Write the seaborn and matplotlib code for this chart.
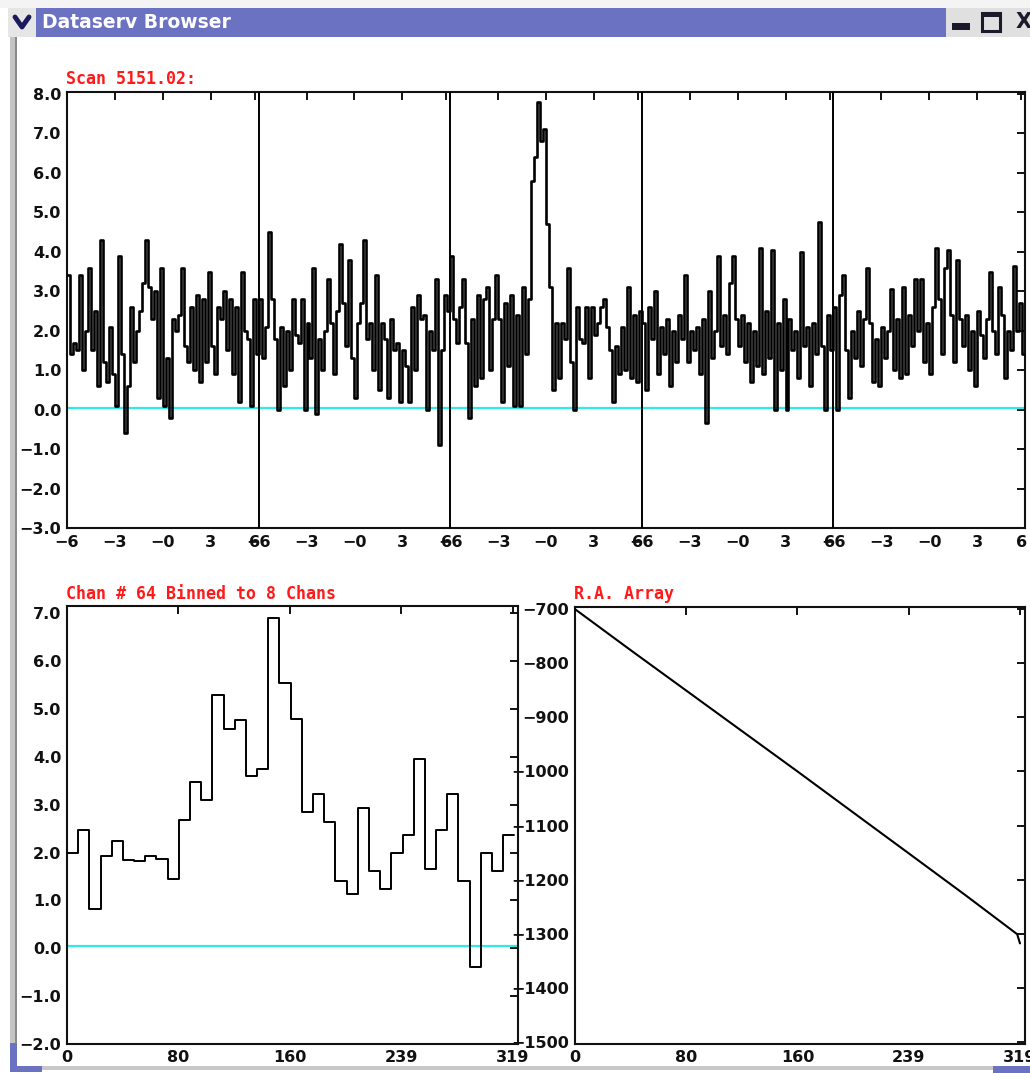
import numpy as np
import pandas as pd
import matplotlib
matplotlib.use("Agg")
import matplotlib.pyplot as plt
import seaborn as sns
from matplotlib.patches import Rectangle
from matplotlib.lines import Line2D

# ---------------- data ----------------
scan_title = "Scan 5151.02:"
binned_title = "Chan # 64 Binned to 8 Chans"
ra_title = "R.A. Array"

seg_tick_labels = ["\u22126", "\u22123", "\u22120", "3"]
seg_end_label = "6"

seg1 = [3.4, 1.4, 1.7, 1.5, 3.4, 1.0, 2.0, 3.6, 1.5, 2.5, 0.6, 4.3, 1.2, 0.7, 2.1, 0.9,
        0.1, 3.9, 1.4, -0.6, 0.6, 2.6, 1.2, 2.0, 2.5, 3.2, 4.3, 3.1, 2.3, 3.0, 0.3, 3.6,
        0.1, 1.3, -0.2, 2.3, 2.0, 2.4, 3.6, 1.6, 1.2, 2.6, 1.0, 2.9, 0.7, 2.8, 1.2, 3.5,
        1.6, 0.9, 2.6, 2.3, 3.0, 1.5, 2.8, 0.9, 2.6, 0.2, 3.5, 2.0, 1.8, 0.1, 2.8, 1.4]
seg2 = [2.8, 1.3, 2.1, 4.5, 2.8, 1.8, 0.0, 2.1, 0.6, 2.0, 1.0, 2.8, 1.9, 1.7, 2.8, 0.0,
        2.2, 1.3, 3.6, -0.1, 1.8, 1.0, 2.0, 3.3, 2.2, 0.9, 2.5, 4.2, 2.7, 1.6, 3.8, 1.3,
        0.3, 2.2, 2.7, 4.3, 1.8, 2.2, 1.0, 3.4, 0.5, 2.2, 1.8, 0.3, 2.3, 1.5, 1.7, 0.2,
        1.5, 1.1, 0.2, 2.6, 1.0, 2.9, 2.3, 2.4, 0.0, 2.0, 1.5, 3.3, -0.9, 1.5, 2.9, 2.5]
seg3 = [3.9, 2.3, 1.7, 2.6, 3.3, 1.7, -0.2, 2.3, 0.6, 2.9, 0.8, 2.8, 3.1, 1.0, 2.3, 3.4,
        2.3, 0.2, 2.7, 1.1, 2.9, 0.1, 2.4, 0.1, 3.1, 1.4, 2.8, 5.8, 6.4, 7.8, 6.8, 7.1,
        4.7, 3.1, 0.5, 2.2, 0.8, 2.2, 1.8, 3.6, 1.2, 0.0, 2.6, 1.8, 1.7, 2.6, 0.8, 2.6,
        1.9, 2.2, 2.6, 2.8, 2.1, 1.5, 0.2, 1.6, 0.9, 2.1, 1.0, 3.1, 0.8, 2.4, 0.7, 2.5]
seg4 = [2.2, 0.5, 2.6, 1.8, 3.0, 0.9, 2.1, 1.4, 2.3, 0.6, 2.0, 1.2, 2.4, 1.8, 3.4, 1.2,
        2.0, 1.5, 2.1, 0.9, 2.3, -0.35, 3.0, 1.3, 2.0, 3.9, 1.6, 2.4, 1.4, 3.2, 3.9, 2.3,
        1.6, 2.4, 1.2, 2.2, 0.7, 2.0, 1.1, 4.1, 0.9, 2.5, 1.3, 4.05, 0.0, 2.2, 1.0, 2.8,
        0.0, 2.3, 1.5, 2.0, 0.8, 4.0, 1.6, 2.1, 0.6, 2.2, 1.4, 4.75, 1.6, 0.0, 2.4, 1.5]
seg5 = [2.6, 0.0, 2.9, 3.4, 1.5, 0.3, 2.0, 1.3, 2.5, 1.1, 2.3, 3.6, 2.2, 0.7, 1.8, 0.6,
        2.1, 1.3, 2.0, 3.05, 1.0, 2.3, 0.8, 3.1, 0.9, 2.4, 1.6, 3.3, 2.0, 3.3, 1.2, 2.2,
        0.9, 2.6, 4.1, 2.8, 1.4, 3.6, 4.05, 2.4, 1.2, 3.8, 2.3, 1.6, 2.4, 1.0, 2.0, 0.6,
        2.5, 1.9, 1.3, 2.3, 3.5, 2.0, 1.4, 3.1, 2.4, 0.8, 2.0, 1.5, 3.65, 2.0, 2.7, 1.4]

binned = [2.0, 2.47, 0.82, 1.93, 2.24, 1.85, 1.82, 1.93, 1.87, 1.45,
          2.68, 3.48, 3.1, 5.3, 4.58, 4.76, 3.6, 3.75, 6.9, 5.55,
          4.78, 2.85, 3.23, 2.64, 1.4, 1.13, 2.92, 1.61, 1.24, 1.99,
          2.37, 3.96, 1.66, 2.47, 3.23, 1.4, -0.39, 1.99, 1.61, 2.37]

ra_chan = [0, 40, 80, 120, 160, 200, 239, 280, 317, 319]
ra_vals = [-700, -776, -851, -926, -1001, -1077, -1151, -1229, -1301, -1318]

chan_tick_labels = ["0", "80", "160", "239", "319"]

# ---------------- style ----------------
sns.set_style("white")
plt.rcParams["font.family"] = ["DejaVu Sans"]

W, H = 1030, 1073
fig = plt.figure(figsize=(W / 100, H / 100), dpi=100, facecolor="white")


def ax_px(l, t, r, b):
    return fig.add_axes([l / W, 1 - b / H, (r - l) / W, (b - t) / H])


def rect(x0, y0, x1, y1, color, z=0, ec="none", lw=0):
    fig.add_artist(Rectangle((x0 / W, 1 - y1 / H), (x1 - x0) / W, (y1 - y0) / H,
                             transform=fig.transFigure, facecolor=color,
                             edgecolor=ec, lw=lw, zorder=z))


def style_axes(ax):
    for sp in ax.spines.values():
        sp.set_visible(True)
        sp.set_color("#111111")
        sp.set_linewidth(1.5)
    ax.tick_params(which="both", direction="in", length=6, width=1.4, color="#111111",
                   top=True, right=True, labelsize=11.5, pad=4,
                   labelcolor="#111111")
    for lab in (ax.get_xticklabels() + ax.get_yticklabels()
                + ax.get_xticklabels(minor=True)):
        lab.set_fontweight("bold")
    ax.set_xlabel("")
    ax.set_ylabel("")
    ax.set_facecolor("white")


red = "#ff1a1a"
mono = dict(family="DejaVu Sans Mono", fontweight="bold", color=red, fontsize=12)

# ---------------- top panel ----------------
ax1 = ax_px(67, 92, 1025, 528)
scan = seg1 + seg2 + seg3 + seg4 + seg5
n = len(scan)
df1 = pd.DataFrame({"chan": np.arange(n + 1), "val": scan + [scan[-1]]})
ax1.axhline(0.03, color="#30eaea", lw=1.6, zorder=1)
sns.lineplot(data=df1, x="chan", y="val", ax=ax1, color="black", lw=1.9,
             drawstyle="steps-post", zorder=3, errorbar=None)
nseg = 5
seg_len = n // nseg
for s in range(1, nseg):
    ax1.axvline(s * seg_len, color="black", lw=1.4, zorder=4)
ax1.set_xlim(0, n)
ax1.set_ylim(-3, 8.05)
ticks, labels = [], []
for s in range(nseg):
    for k, lab in enumerate(seg_tick_labels):
        ticks.append(s * seg_len + k * seg_len / 4)
        labels.append(lab)
ax1.set_xticks(ticks)
ax1.set_xticklabels(labels)
end_ticks = [(s + 1) * seg_len - 1.3 for s in range(nseg)]
ax1.set_xticks(end_ticks, minor=True)
ax1.set_xticklabels([seg_end_label] * nseg, minor=True)
ax1.set_yticks(np.arange(-3, 9, 1))
ax1.set_yticklabels([f"{v:.1f}".replace("-", "\u2212") for v in np.arange(-3, 9, 1)])
style_axes(ax1)
ax1.tick_params(axis="x", which="both", pad=5)
fig.text(66 / W, 1 - 88 / H, scan_title, ha="left", va="bottom", **mono)

# ---------------- bottom-left panel ----------------
ax2 = ax_px(67, 606, 518, 1044)
edges = np.arange(0, 8 * len(binned) + 1, 8)
df2 = pd.DataFrame({"chan": edges, "val": binned + [binned[-1]]})
ax2.axhline(0.05, color="#30eaea", lw=1.6, zorder=1)
sns.lineplot(data=df2, x="chan", y="val", ax=ax2, color="black", lw=1.4,
             drawstyle="steps-post", zorder=3, errorbar=None)
ax2.set_xlim(0, 322.6)
ax2.set_ylim(-2.0, 7.15)
ax2.set_xticks(np.linspace(0, 319, 5))
ax2.set_xticklabels(chan_tick_labels)
ax2.set_yticks(np.arange(-2, 8, 1))
ax2.set_yticklabels([f"{v:.1f}".replace("-", "\u2212") for v in np.arange(-2, 8, 1)])
style_axes(ax2)
fig.text(66 / W, 1 - 603 / H, binned_title, ha="left", va="bottom", **mono)

# ---------------- bottom-right panel ----------------
ax3 = ax_px(575, 607, 1025, 1044)
df3 = pd.DataFrame({"chan": ra_chan, "val": ra_vals})
sns.lineplot(data=df3, x="chan", y="val", ax=ax3, color="black", lw=1.5,
             zorder=3, errorbar=None, sort=False)
ax3.set_xlim(0, 322.6)
ax3.set_ylim(-1504, -696)
ax3.set_xticks(np.linspace(0, 319, 5))
ax3.set_xticklabels(chan_tick_labels)
ax3.set_yticks(np.arange(-1500, -699, 100))
ax3.set_yticklabels([str(v).replace("-", "\u2212") for v in range(-1500, -699, 100)])
style_axes(ax3)
fig.text(574 / W, 1 - 603 / H, ra_title, ha="left", va="bottom", **mono)

# ---------------- window chrome ----------------
rect(0, 0, W, 8, "#f4f4f4")
rect(36, 8, 946, 37, "#6b72c2")
rect(8, 8, 36, 37, "#e6e6e6")
fig.add_artist(Line2D([15 / W, 22 / W, 29 / W], [1 - 17 / H, 1 - 27 / H, 1 - 17 / H],
                      transform=fig.transFigure, color="#1a1a5a", lw=3.5))
fig.text(42 / W, 1 - 23 / H, "Dataserv Browser", color="white", fontsize=13.5,
         fontweight="bold", va="center", ha="left",
         family=["Liberation Sans Narrow", "DejaVu Sans"])
rect(946, 8, W, 37, "#e0e0e0")
rect(952, 23, 970, 30, "#1a1a2a")
rect(982, 13, 1000, 31, "none", ec="#1a1a2a", lw=2.2)
rect(982, 13, 1000, 17, "#1a1a2a")
fig.text(1024 / W, 1 - 22 / H, "X", color="#1a1a2a", fontsize=15, fontweight="bold",
         ha="center", va="center")
rect(10, 37, 17, 1070, "#c4c4c4")
rect(15, 37, 17, 1070, "#8a8a8a")
rect(10, 1066, W, 1070, "#c8c8c8")
rect(10, 1043, 42, 1072, "#6b72c2")
rect(17, 1043, 42, 1066, "white")
rect(993, 1066, W, 1073, "#6b72c2")

fig.savefig("out.png", dpi=100, facecolor="white")
